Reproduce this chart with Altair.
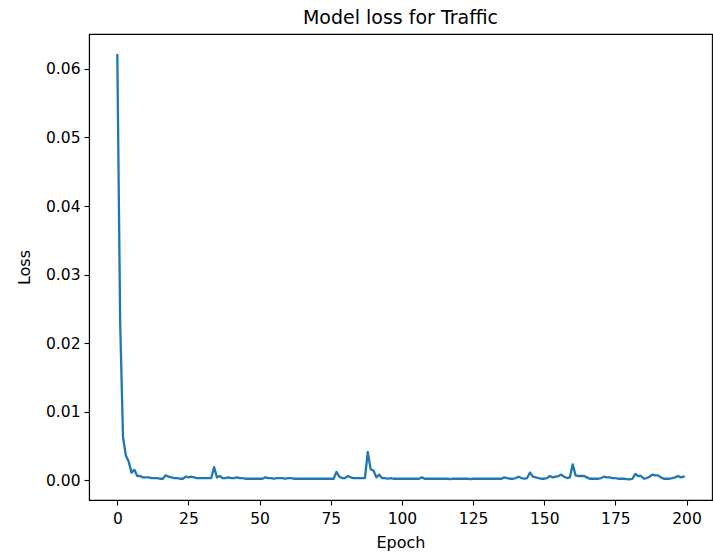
import altair as alt
import pandas as pd

loss = [
    0.0620, 0.0230, 0.0063, 0.0036, 0.0027, 0.0011, 0.0015, 0.0006, 0.0006, 0.0004,
    0.0004, 0.0004, 0.0003, 0.0003, 0.0003, 0.0002, 0.0002, 0.0007, 0.0005, 0.0004,
    0.0003, 0.0003, 0.0002, 0.0002, 0.0005, 0.0004, 0.0005, 0.0004, 0.0003, 0.0003,
    0.0003, 0.0003, 0.0003, 0.0003, 0.0019, 0.0004, 0.0006, 0.0003, 0.0003, 0.0004,
    0.0003, 0.0003, 0.0004, 0.0003, 0.0003, 0.0002, 0.0002, 0.0002, 0.0002, 0.0002,
    0.0002, 0.0002, 0.0004, 0.0003, 0.0003, 0.0002, 0.0003, 0.0003, 0.0003, 0.0002,
    0.0003, 0.0003, 0.0002, 0.0002, 0.0002, 0.0002, 0.0002, 0.0002, 0.0002, 0.0002,
    0.0002, 0.0002, 0.0002, 0.0002, 0.0002, 0.0002, 0.0002, 0.0012, 0.0005, 0.0003,
    0.0003, 0.0006, 0.0004, 0.0003, 0.0003, 0.0003, 0.0003, 0.0003, 0.0041, 0.0016,
    0.0014, 0.0004, 0.0008, 0.0003, 0.0003, 0.0002, 0.0003, 0.0002, 0.0002, 0.0002,
    0.0002, 0.0002, 0.0002, 0.0002, 0.0002, 0.0002, 0.0002, 0.0004, 0.0002, 0.0002,
    0.0002, 0.0002, 0.0002, 0.0002, 0.0002, 0.0002, 0.0002, 0.00015, 0.0002, 0.0002,
    0.0002, 0.0002, 0.0002, 0.0002, 0.00015, 0.0002, 0.0002, 0.0002, 0.0002, 0.0002,
    0.0002, 0.0002, 0.0002, 0.0002, 0.0002, 0.0002, 0.0004, 0.0003, 0.0002, 0.0002,
    0.0003, 0.0005, 0.0003, 0.0002, 0.0003, 0.0011, 0.0005, 0.0004, 0.0003, 0.0002,
    0.0002, 0.0003, 0.0006, 0.0004, 0.0005, 0.0006, 0.0008, 0.0005, 0.0003, 0.0004,
    0.0023, 0.0007, 0.0006, 0.0006, 0.0006, 0.0004, 0.0002, 0.0002, 0.0002, 0.0002,
    0.0003, 0.0005, 0.0004, 0.0004, 0.0003, 0.0003, 0.0002, 0.0002, 0.0002, 0.00015,
    0.0001, 0.0002, 0.0009, 0.0006, 0.0006, 0.0002, 0.0003, 0.0005, 0.0008, 0.0007,
    0.0007, 0.0004, 0.0002, 0.0002, 0.0002, 0.0003, 0.0004, 0.0006, 0.0004, 0.0005,
]
epochs = list(range(len(loss)))
x_ticks = [0, 25, 50, 75, 100, 125, 150, 175, 200]
y_ticks = [0.0, 0.01, 0.02, 0.03, 0.04, 0.05, 0.06]

df = pd.DataFrame({"Epoch": epochs, "Loss": loss})

FONT = "DejaVu Sans"

chart = (
    alt.Chart(df)
    .mark_line(color="#1f77b4", strokeWidth=2.3, strokeJoin="round", strokeCap="square", clip=True)
    .encode(
        x=alt.X(
            "Epoch:Q",
            scale=alt.Scale(domain=[-9.95, 208.95], nice=False, zero=False),
            axis=alt.Axis(values=x_ticks, format="d", title="Epoch", labelPadding=6, titlePadding=8),
        ),
        y=alt.Y(
            "Loss:Q",
            scale=alt.Scale(domain=[-0.0029, 0.0651], nice=False, zero=False),
            axis=alt.Axis(values=y_ticks, format=".2f", title="Loss", labelPadding=4, titlePadding=13),
        ),
    )
    .properties(
        width=623,
        height=466,
        title=alt.TitleParams("Model loss for Traffic", fontSize=19, font=FONT,
                              fontWeight="normal", color="black", anchor="middle", offset=6),
        autosize=alt.AutoSizeParams(type="none"),
        padding={"left": 89, "top": 34, "right": 1, "bottom": 59},
    )
    .configure_view(stroke="black", strokeWidth=1.1)
    .configure_axis(
        grid=False,
        domainColor="black",
        domainWidth=1.1,
        tickColor="black",
        tickWidth=1.1,
        tickSize=5,
        labelFont=FONT,
        labelFontSize=15.5,
        labelColor="black",
        titleFont=FONT,
        titleFontSize=16,
        titleFontWeight="normal",
        titleColor="black",
    )
)

chart.save("out.html", embed_options={"renderer": "svg", "actions": False})
